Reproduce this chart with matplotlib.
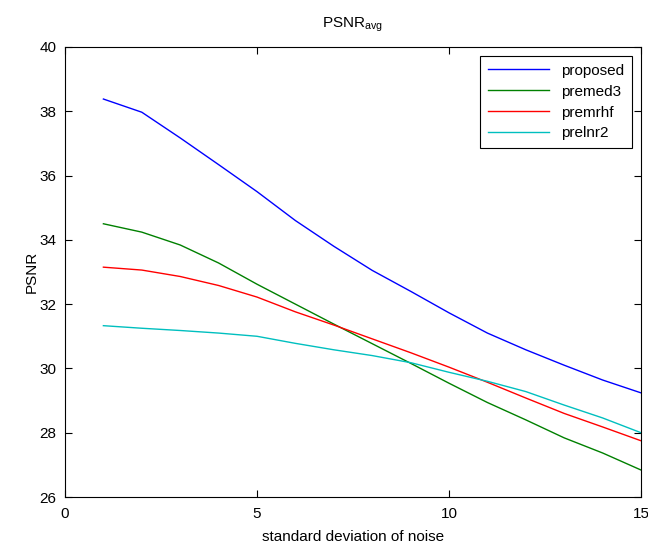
import matplotlib
matplotlib.use('Agg')
import matplotlib.pyplot as plt

plt.rcParams['font.family'] = ['Liberation Sans', 'DejaVu Sans']
plt.rcParams['mathtext.default'] = 'regular'

# noise std, x axis
sigma = [1, 2, 3, 4, 5, 6, 7, 8, 9, 10, 11, 12, 13, 14, 15]

proposed = [38.38, 37.97, 37.17, 36.34, 35.5, 34.6, 33.8, 33.05, 32.4, 31.73, 31.1, 30.58, 30.1, 29.64, 29.24]
premed3 = [34.5, 34.24, 33.84, 33.28, 32.62, 32.0, 31.38, 30.77, 30.16, 29.54, 28.94, 28.4, 27.84, 27.37, 26.84]
premrhf = [33.15, 33.06, 32.86, 32.58, 32.22, 31.76, 31.35, 30.92, 30.49, 30.04, 29.57, 29.08, 28.6, 28.18, 27.75]
prelnr2 = [31.33, 31.25, 31.18, 31.1, 31.0, 30.78, 30.58, 30.4, 30.18, 29.88, 29.6, 29.28, 28.86, 28.46, 28.0]

labels = ['proposed', 'premed3', 'premrhf', 'prelnr2']
colors = ['#0000ff', '#008000', '#ff0000', '#00bfbf']

fig = plt.figure(figsize=(6.48, 5.46), dpi=100)
ax = fig.add_axes([0.1003, 0.0897, 0.8889, 0.8243])

for y, lab, c in zip([proposed, premed3, premrhf, prelnr2], labels, colors):
    ax.plot(sigma, y, color=c, lw=1, label=lab)

ax.set_xlim(0, 15)
ax.set_ylim(26, 40)
ax.set_xticks([0, 5, 10, 15])
ax.set_yticks(range(26, 41, 2))
ax.tick_params(direction='in', length=5, width=0.8, top=True, right=True, labelsize=11)
ax.tick_params(axis='x', pad=7)
ax.tick_params(axis='y', pad=6)
for s in ax.spines.values():
    s.set_linewidth(0.8)

ax.set_title(r'PSNR$_{avg}$', fontsize=11, pad=14)
ax.set_xlabel('standard deviation of noise', fontsize=11, labelpad=7)
ax.set_ylabel('PSNR', fontsize=11, labelpad=1)

leg = ax.legend(loc='upper right', fancybox=False, edgecolor='black', framealpha=1,
                fontsize=11, handlelength=4, borderaxespad=0.6, labelspacing=0.45,
                borderpad=0.5)
leg.get_frame().set_linewidth(0.8)

fig.savefig('out.png', dpi=100)
